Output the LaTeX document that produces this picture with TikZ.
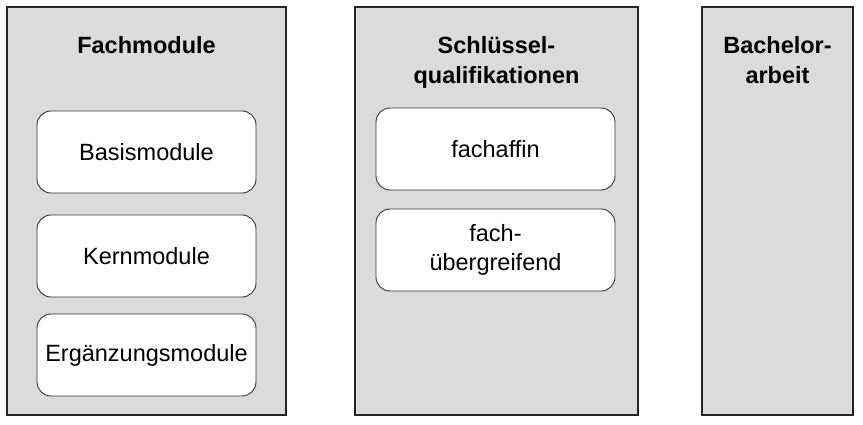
\documentclass[tikz,border=0pt]{standalone}
\usepackage{fontspec}
\setmainfont{Liberation Sans}
\usetikzlibrary{positioning}

\begin{document}
\begin{tikzpicture}[
  x=1pt, y=-1pt,
  column/.style={draw=black!85, line width=1.3pt, fill=black!14,
    minimum width=#1, minimum height=408pt, inner sep=0pt},
  coltitle/.style={font=\fontsize{23.5}{30}\selectfont\bfseries, align=center, anchor=north},
  modbox/.style={draw=black!80, line width=0.9pt, fill=white, rounded corners=14pt,
    minimum width=#1, minimum height=82pt, inner sep=0pt,
    font=\fontsize{23.5}{29}\selectfont, align=center}
]
\useasboundingbox (0,0) rectangle (863,425);

% --- Columns ---
\node[column=279pt] (fach) at (146.5,211) {};
\node[column=283pt] (schluessel) at (496.5,211) {};
\node[column=151pt] (bachelor) at (777.5,211) {};

% --- Column titles ---
\node[coltitle] (fachT) at (146.5,33) {Fachmodule};
\node[coltitle] (schluesselT) at (496.5,33) {Schlüssel-\\qualifikationen};
\node[coltitle] (bachelorT) at (777.5,33) {Bachelor-\\arbeit};

% --- Fachmodule ---
\node[modbox=219pt] (basis) at (146.5,152) {Basismodule};
\node[modbox=219pt] (kern) at (146.5,256) {Kernmodule};
\node[modbox=219pt] (ergaenzung) at (146.5,355) {Ergänzungsmodule};

% --- Schluesselqualifikationen ---
\node[modbox=239pt] (affin) at (495.5,149) {fachaffin};
\node[modbox=239pt] (uebergreifend) at (495.5,250) {fach-\\übergreifend};

\end{tikzpicture}
\end{document}
